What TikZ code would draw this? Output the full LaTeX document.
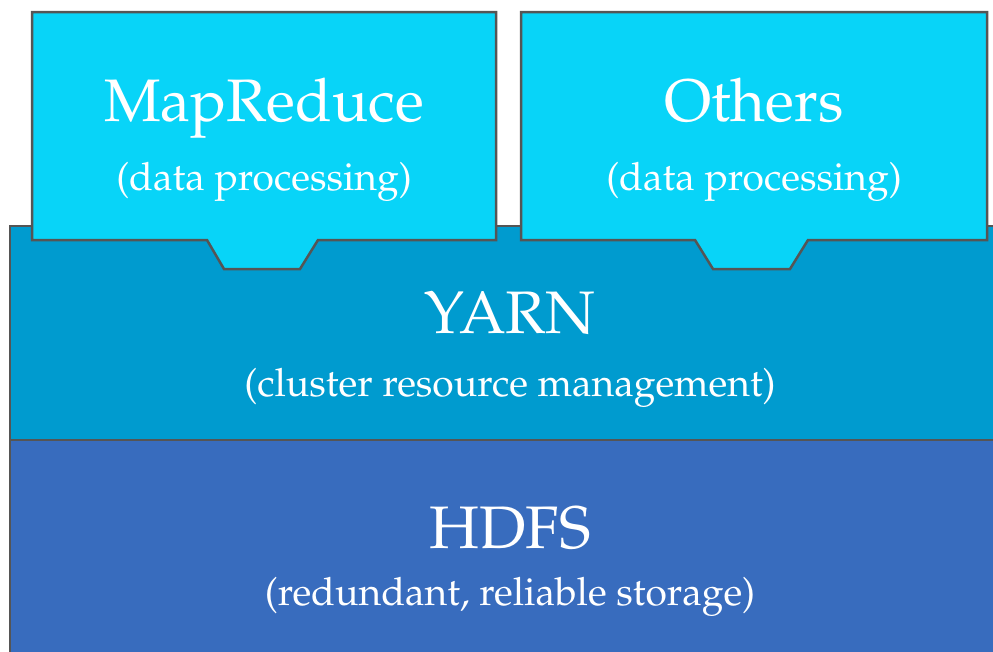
\documentclass[tikz,border=0pt]{standalone}
\usepackage[T1]{fontenc}
\usepackage{mathpazo}
\definecolor{tabcyan}{RGB}{8,212,248}
\definecolor{yarnblue}{RGB}{0,155,207}
\definecolor{hdfsblue}{RGB}{56,108,190}
\definecolor{edgegray}{RGB}{85,85,85}
\tikzset{
  layer/.style={draw=edgegray, line width=2.5pt, line join=miter},
  title/.style={anchor=base, text=white, inner sep=0pt, font=\fontsize{60}{60}\selectfont},
  subtitle/.style={anchor=base, text=white, inner sep=0pt, font=\fontsize{39}{39}\selectfont},
}
\begin{document}
\begin{tikzpicture}[x=1pt, y=-1pt]
  \useasboundingbox (0,0) rectangle (993,651);
  \clip (0,0) rectangle (993,651);

  % storage layer
  \filldraw[layer, fill=hdfsblue] (10,440) rectangle (1010,670);
  % resource management layer
  \filldraw[layer, fill=yarnblue] (10,226) rectangle (1010,440);

  % processing frameworks: tabs that plug into the layer below
  \filldraw[layer, fill=tabcyan]
    (32,12) -- (496,12) -- (496,240) -- (318,240) -- (300,269)
    -- (224,269) -- (207,240) -- (32,240) -- cycle;
  \filldraw[layer, fill=tabcyan]
    (521,12) -- (987,12) -- (987,240) -- (808,240) -- (790,269)
    -- (713,269) -- (695,240) -- (521,240) -- cycle;

  % labels
  \node[title]    (mr)    at (264,121) {MapReduce};
  \node[subtitle] (mrsub) at (264,190) {(data processing)};
  \node[title]    (ot)    at (754,121) {Others};
  \node[subtitle] (otsub) at (754,190) {(data processing)};
  \node[title]    (yarn)  at (510,333) {YARN};
  \node[subtitle] (yarnsub) at (510,396) {(cluster resource management)};
  \node[title]    (hdfs)  at (510,548) {HDFS};
  \node[subtitle] (hdfssub) at (510,605) {(redundant, reliable storage)};
\end{tikzpicture}
\end{document}
